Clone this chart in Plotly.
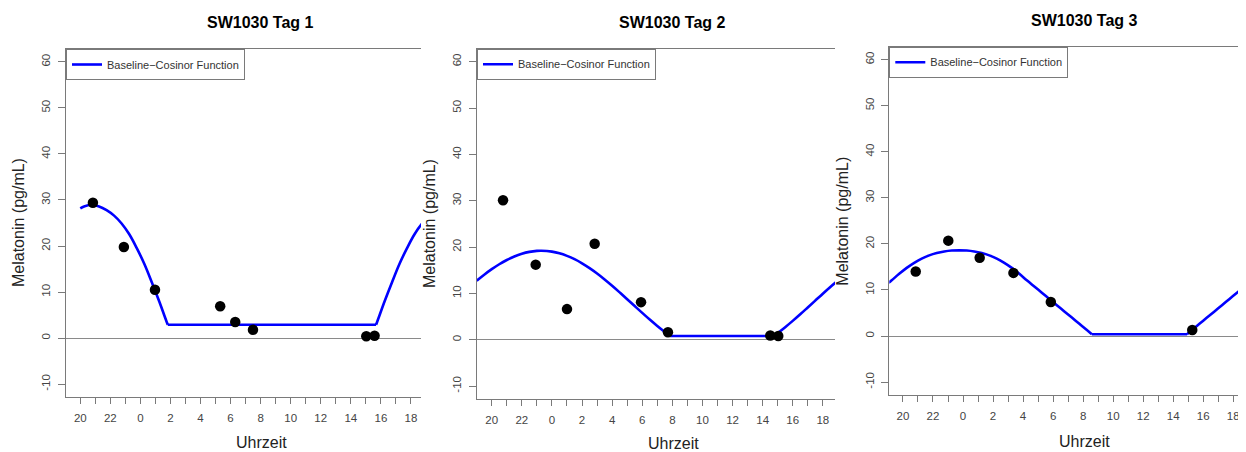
import plotly.graph_objects as go

# ---------------- data ----------------
panel_titles = ["SW1030 Tag 1", "SW1030 Tag 2", "SW1030 Tag 3"]
legend_label = "Baseline\u2212Cosinor Function"
x_title = "Uhrzeit"
y_title = "Melatonin (pg/mL)"

# hours counted from the evening of the day (24 = midnight, 42 = 18 Uhr next day)
x_tick_vals = list(range(20, 43))
x_tick_text = ["20", "", "22", "", "0", "", "2", "", "4", "", "6", "", "8", "",
               "10", "", "12", "", "14", "", "16", "", "18"]
y_tick_vals = [-10, 0, 10, 20, 30, 40, 50, 60]
y_tick_text = ["-10", "0", "10", "20", "30", "40", "50", "60"]

# measured samples
obs1_t = [20.84, 22.90, 24.97, 29.31, 30.31, 31.49, 39.03, 39.58]
obs1_v = [29.4, 19.8, 10.5, 6.9, 3.5, 1.8, 0.4, 0.5]
obs2_t = [20.75, 22.92, 25.00, 26.84, 29.92, 31.71, 38.51, 39.04]
obs2_v = [30.1, 16.2, 6.6, 20.7, 8.1, 1.6, 0.9, 0.8]
obs3_t = [20.85, 23.02, 25.11, 27.36, 29.85, 39.27]
obs3_v = [14.0, 20.7, 17.0, 13.7, 7.4, 1.3]

# fitted baseline-cosinor curves
fit1_t = [20.0, 20.25, 20.75, 21.25, 21.75, 22.25, 22.75, 23.25, 23.75, 24.25,
          24.75, 25.25, 25.75, 25.82,
          39.68, 39.75, 40.25, 40.75, 41.25, 41.75, 42.25, 42.75, 43.25]
fit1_v = [28.2, 28.6, 28.9, 28.6, 27.8, 26.6, 24.9, 22.6, 19.6, 16.2,
          12.2, 8.0, 3.5, 2.9,
          2.9, 3.5, 8.0, 12.2, 16.2, 19.6, 22.6, 24.9, 26.6]
fit2_t = [19.0, 19.5, 20.0, 20.5, 21.0, 21.5, 22.0, 22.5, 23.0, 23.3, 24.0, 24.5,
          25.0, 25.5, 26.0, 26.5, 27.0, 27.5, 28.0, 28.5, 29.0, 29.5, 30.0, 30.5,
          31.0, 31.5, 31.86,
          38.74, 39.0, 39.5, 40.0, 40.5, 41.0, 41.5, 42.0, 42.5, 43.0]
fit2_v = [12.74, 14.03, 15.22, 16.28, 17.2, 17.96, 18.55, 18.95, 19.17, 19.2, 19.01, 18.65,
          18.09, 17.37, 16.48, 15.44, 14.28, 13.0, 11.64, 10.21, 8.74, 7.26, 5.78, 4.34,
          2.96, 1.67, 0.8,
          0.8, 1.42, 2.7, 4.06, 5.49, 6.96, 8.44, 9.92, 11.36, 12.74]
fit3_t = [19.05, 19.25, 19.75, 20.25, 20.75, 21.25, 21.75, 22.25, 22.75, 23.25,
          23.75, 24.25, 24.75, 25.25, 25.75, 26.25, 26.75, 27.25, 27.75, 28.25,
          28.75, 29.25, 29.75, 30.25, 30.75, 31.25, 31.75, 32.25, 32.58,
          38.92, 39.25, 39.75, 40.25, 40.75, 41.25, 41.75, 42.25, 42.75, 43.25]
fit3_v = [11.56, 12.1, 13.5, 14.8, 15.9, 16.8, 17.5, 18.0, 18.35, 18.55,
          18.6, 18.55, 18.35, 18.0, 17.5, 16.8, 15.9, 14.8, 13.5, 12.1,
          10.75, 9.4, 8.05, 6.7, 5.35, 4.0, 2.65, 1.3, 0.4,
          0.4, 1.3, 2.65, 4.0, 5.35, 6.7, 8.05, 9.4, 10.75, 12.1]

obs_t = [obs1_t, obs2_t, obs3_t]
obs_v = [obs1_v, obs2_v, obs3_v]
fit_t = [fit1_t, fit2_t, fit3_t]
fit_v = [fit1_v, fit2_v, fit3_v]

# ---------------- layout geometry (window pixels) ----------------
WIN_W, WIN_H = 1246, 452
OFF = 8                      # default page margin around the plot div
W, H = WIN_W - OFF, WIN_H - OFF
x_ranges = [[19.05, 42.67], [19.02, 42.81], [19.09, 42.85]]
y_range = [-12.8, 62.8]
px_x = [(66, 421), (477, 835), (889.3, 1246)]
px_y = [(49, 397), (48.7, 399), (46.7, 395)]
title_pos = [(260, 22.5), (672.5, 22.5), (1084, 20.5)]
xtitle_pos = [(261, 442.5), (673, 443.5), (1084, 441)]
ytitle_pos = [(18.5, 222.5), (429, 224), (841.7, 221)]


def px2x(p):
    return (p - OFF) / W


def px2y(p):
    return 1 - (p - OFF) / H


FONT = "Liberation Sans, Arial, sans-serif"
AX = "#7a7a7a"
TXT = "#444444"

fig = go.Figure()
legend_names = ["legend", "legend2", "legend3"]
for i in range(3):
    xa = "x" if i == 0 else f"x{i+1}"
    ya = "y" if i == 0 else f"y{i+1}"
    t, v = fit_t[i], fit_v[i]
    base = min(v)
    i1 = v.index(base)
    i2 = len(v) - 1 - v[::-1].index(base)
    segments = [(0, i1 + 1, "spline"), (i1, i2 + 1, "linear"), (i2, len(v), "spline")]
    for k, (a, b, shape) in enumerate(segments):
        fig.add_trace(go.Scatter(
            x=t[a:b], y=v[a:b], mode="lines", name=legend_label,
            line=dict(color="#0000ff", width=2.6, shape=shape, smoothing=1.0),
            xaxis=xa, yaxis=ya, legend=legend_names[i],
            legendgroup=f"fit{i}", showlegend=(k == 0)))
    fig.add_trace(go.Scatter(
        x=obs_t[i], y=obs_v[i], mode="markers",
        marker=dict(color="black", size=10.5),
        xaxis=xa, yaxis=ya, showlegend=False))

layout = dict(
    width=W, height=H, margin=dict(l=0, r=0, t=0, b=0),
    paper_bgcolor="white", plot_bgcolor="white",
    font=dict(family=FONT, color=TXT),
    annotations=[],
)

for i in range(3):
    xk = "xaxis" if i == 0 else f"xaxis{i+1}"
    yk = "yaxis" if i == 0 else f"yaxis{i+1}"
    x0, x1 = px_x[i]
    yt, yb = px_y[i]
    layout[xk] = dict(
        domain=[px2x(x0), min(1.0, px2x(x1))], range=x_ranges[i],
        anchor="y" if i == 0 else f"y{i+1}",
        tickmode="array", tickvals=x_tick_vals, ticktext=x_tick_text,
        ticks="outside", ticklen=6, tickwidth=1, tickcolor=AX,
        tickfont=dict(size=11.5, color=TXT, family=FONT),
        ticklabelstandoff=4,
        showline=True, linecolor=AX, linewidth=1, mirror=True,
        showgrid=False, zeroline=False, fixedrange=True)
    layout[yk] = dict(
        domain=[px2y(yb), px2y(yt)], range=y_range,
        anchor="x" if i == 0 else f"x{i+1}",
        tickmode="array", tickvals=y_tick_vals, ticktext=y_tick_text,
        tickangle=-90,
        ticks="outside", ticklen=7, tickwidth=1, tickcolor=AX,
        tickfont=dict(size=11.5, color=TXT, family=FONT),
        ticklabelstandoff=3,
        showline=True, linecolor=AX, linewidth=1, mirror=False,
        showgrid=False, zeroline=True, zerolinecolor="#8a8a8a", zerolinewidth=1,
        fixedrange=True)
    layout[legend_names[i]] = dict(
        x=px2x(x0), y=px2y(yt), xanchor="left", yanchor="top",
        bgcolor="white", bordercolor=AX, borderwidth=1,
        font=dict(size=11, color="#333333", family=FONT),
        itemwidth=30, tracegroupgap=0)
    tx, ty = title_pos[i]
    layout["annotations"].append(dict(
        text=f"<b>{panel_titles[i]}</b>", x=px2x(tx), y=px2y(ty),
        xref="paper", yref="paper", showarrow=False,
        xanchor="center", yanchor="middle",
        font=dict(size=16, color="black", family=FONT)))
    ax_, ay_ = xtitle_pos[i]
    layout["annotations"].append(dict(
        text=x_title, x=px2x(ax_), y=px2y(ay_),
        xref="paper", yref="paper", showarrow=False,
        xanchor="center", yanchor="middle",
        font=dict(size=16, color="#222222", family=FONT)))
    bx, by = ytitle_pos[i]
    layout["annotations"].append(dict(
        text=y_title, x=px2x(bx), y=px2y(by), textangle=-90,
        xref="paper", yref="paper", showarrow=False,
        xanchor="center", yanchor="middle",
        font=dict(size=16, color="#222222", family=FONT)))

fig.update_layout(**layout)
fig.write_html("out.html")
